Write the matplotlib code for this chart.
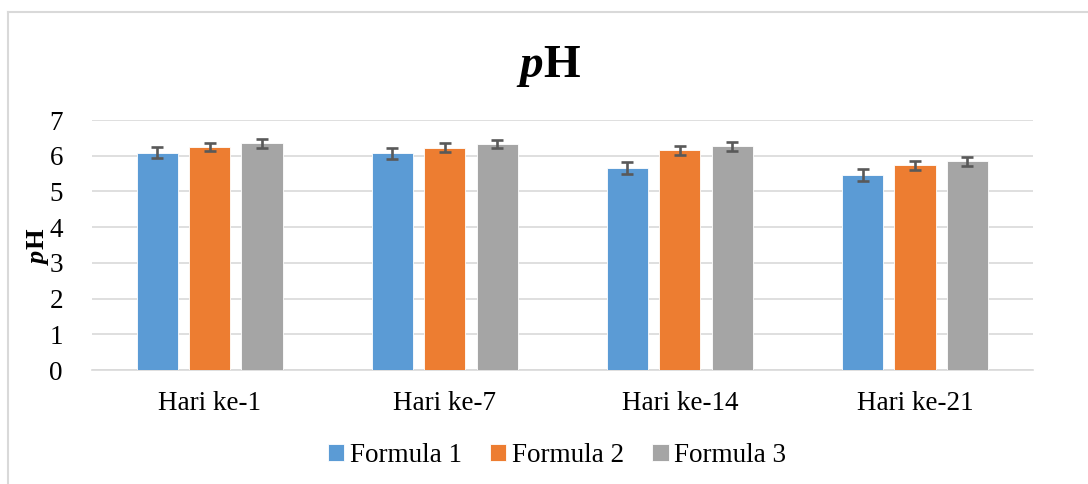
import matplotlib.pyplot as plt
import numpy as np

# Data
days = ["Hari ke-1", "Hari ke-7", "Hari ke-14", "Hari ke-21"]
formula1 = [6.09, 6.07, 5.66, 5.46]
formula2 = [6.25, 6.23, 6.15, 5.73]
formula3 = [6.35, 6.33, 6.26, 5.84]
err1 = [0.16, 0.16, 0.16, 0.16]
err2 = [0.12, 0.12, 0.12, 0.12]
err3 = [0.12, 0.12, 0.12, 0.12]
series_names = ["Formula 1", "Formula 2", "Formula 3"]
colors = ["#5b9bd5", "#ed7d31", "#a5a5a5"]

plt.rcParams['font.family'] = ['Liberation Serif', 'DejaVu Serif']
plt.rcParams['mathtext.fontset'] = 'custom'
plt.rcParams['mathtext.rm'] = 'Liberation Serif'
plt.rcParams['mathtext.bf'] = 'Liberation Serif:bold'
plt.rcParams['mathtext.bfit'] = 'Liberation Serif:bold:italic'

fig = plt.figure(figsize=(10.88, 4.84), dpi=100)
ax = fig.add_axes([0.0846, 0.2355, 0.8644, 0.5165])

# chart border like the office frame
fig.add_artist(plt.Line2D([0.0075, 0.0075], [0, 1 - 12 / 484], color="#d9d9d9", lw=1.5))
fig.add_artist(plt.Line2D([0.0075, 1], [1 - 12 / 484, 1 - 12 / 484], color="#d9d9d9", lw=1.5))

x = np.arange(len(days))
width = 0.175
offset = 0.223
all_vals = [formula1, formula2, formula3]
all_errs = [err1, err2, err3]
for i, (vals, errs) in enumerate(zip(all_vals, all_errs)):
    ax.bar(x + (i - 1) * offset, vals, width, color=colors[i], label=series_names[i],
           edgecolor="white", linewidth=0.6, zorder=3,
           yerr=errs, error_kw=dict(ecolor="#595959", elinewidth=1.9, capsize=4.5, capthick=1.9, zorder=4))

ax.set_xlim(-0.5, 3.5)
ax.set_ylim(0, 7)
ax.set_yticks(range(0, 8))
ax.set_xticks(x)
ax.set_xticklabels(days)
ax.tick_params(axis='both', length=0, labelsize=19.5)
ax.tick_params(axis='y', pad=21)
ax.tick_params(axis='x', pad=15)
ax.yaxis.grid(True, color="#d9d9d9", linewidth=1.2, zorder=0)
ax.set_axisbelow(True)
for s in ["top", "right", "left"]:
    ax.spines[s].set_visible(False)
ax.spines["bottom"].set_color("#d9d9d9")
ax.spines["bottom"].set_linewidth(1.2)

fig.text(0.504, 0.862, r"$\mathbfit{p}\mathbf{H}$", fontsize=34, ha="center", va="center")
fig.text(0.035, 0.49, r"$\mathbfit{p}\mathbf{H}$", fontsize=19, ha="center", va="center", rotation=90)

ax.legend(loc="center", bbox_to_anchor=(0.512, 0.058), bbox_transform=fig.transFigure,
          ncol=3, frameon=False, fontsize=19.5, handlelength=0.6, handleheight=0.6,
          handletextpad=0.2, columnspacing=1.05)

fig.savefig("out.png", dpi=100)
